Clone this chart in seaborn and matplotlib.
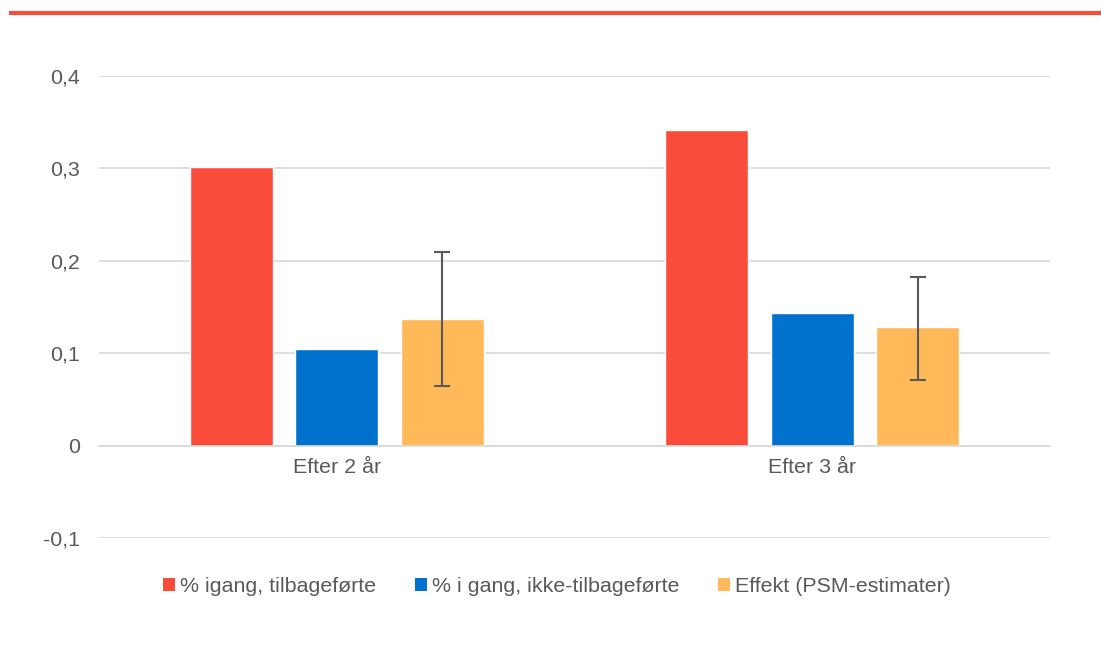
import matplotlib
matplotlib.use("Agg")
import matplotlib.pyplot as plt
import seaborn as sns
import pandas as pd
from matplotlib.patches import Patch
from matplotlib.lines import Line2D

categories = ["Efter 2 år", "Efter 3 år"]
series_names = ["% igang, tilbageførte", "% i gang, ikke-tilbageførte", "Effekt (PSM-estimater)"]
igang_tilbage = [0.301, 0.342]
igang_ikke = [0.105, 0.143]
effekt = [0.137, 0.128]
effekt_lower = [0.065, 0.071]
effekt_upper = [0.209, 0.183]
y_ticks = [-0.1, 0, 0.1, 0.2, 0.3, 0.4]
y_ticklabels = ["-0,1", "0", "0,1", "0,2", "0,3", "0,4"]

colors = ["#F94C3B", "#0072CE", "#FFB959"]
text_color = "#595959"
grid_color = "#D9D9D9"

rows = []
for s, vals in zip(series_names, [igang_tilbage, igang_ikke, effekt]):
    for c, v in zip(categories, vals):
        rows.append({"cat": c, "series": s, "value": v})
df = pd.DataFrame(rows)

sns.set_theme(style="white")
plt.rcParams["font.family"] = ["Liberation Sans", "DejaVu Sans"]

fig = plt.figure(figsize=(11.01, 6.51), dpi=100)
ax = fig.add_axes([99/1101, 1-538/651, 951/1101, (538-76)/651])

sns.barplot(data=df, x="cat", y="value", hue="series", order=categories,
            hue_order=series_names, palette=colors, width=0.666, gap=0.213,
            errorbar=None, saturation=1, ax=ax, legend=False)

# error bars on Effekt bars
eff_patches = ax.containers[2]
xs = [p.get_x() + p.get_width()/2 for p in eff_patches]
lower = [v - l for v, l in zip(effekt, effekt_lower)]
upper = [u - v for v, u in zip(effekt, effekt_upper)]
ax.errorbar(xs, effekt, yerr=[lower, upper], fmt="none", ecolor="#595959",
            elinewidth=1.5, capsize=6, capthick=1.5, zorder=5)

ax.set_xlim(-0.5, 1.5)
ax.set_ylim(-0.1, 0.4)
ax.set_yticks(y_ticks)
ax.set_yticklabels(y_ticklabels)
ax.yaxis.grid(True, color=grid_color, linewidth=1.2)
ax.set_axisbelow(True)
for sp in ["top", "right", "left"]:
    ax.spines[sp].set_visible(False)
ax.spines["bottom"].set_position(("data", 0))
ax.spines["bottom"].set_color(grid_color)
ax.spines["bottom"].set_linewidth(1.2)
ax.set_xlabel("")
ax.set_ylabel("")
ax.tick_params(axis="both", length=0, labelsize=15.4, colors=text_color)
ax.tick_params(axis="x", pad=9)
ax.tick_params(axis="y", pad=13.5)

# top red rule
fig.add_artist(Line2D([9/1101, 1], [1-12.5/651, 1-12.5/651], color="#F94C3B",
                      linewidth=3, solid_capstyle="butt", transform=fig.transFigure))

handles = [Patch(facecolor=c, edgecolor="none") for c in colors]
leg = fig.legend(handles, series_names, loc="center", ncol=3,
                 bbox_to_anchor=(557/1101, 1-587/651), frameon=False,
                 fontsize=15.4, handlelength=0.55, handleheight=0.55,
                 handletextpad=0.25, columnspacing=1.8)
for t in leg.get_texts():
    t.set_color(text_color)

fig.savefig("out.png", dpi=100)
